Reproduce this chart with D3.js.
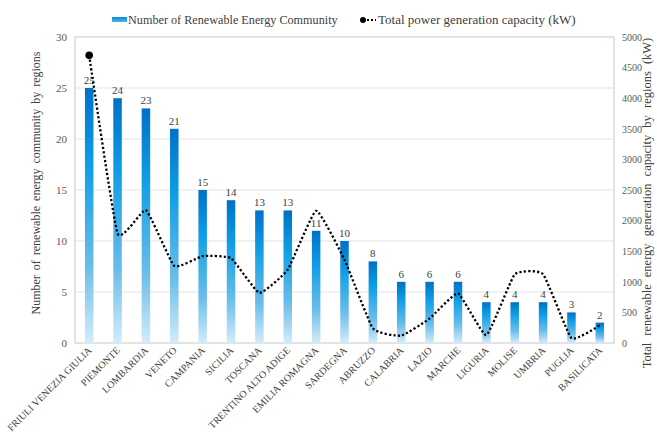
<!DOCTYPE html>
<html>
<head>
<meta charset="utf-8">
<script src="https://cdn.jsdelivr.net/npm/d3@7"></script>
<style>
  html, body { margin: 0; padding: 0; background: #fff; }
  svg { display: block; }
</style>
</head>
<body>
<svg id="chart" width="657" height="433"></svg>
<script>
// Renewable energy communities by Italian region
const regions = ["FRIULI VENEZIA GIULIA", "PIEMONTE", "LOMBARDIA", "VENETO", "CAMPANIA", "SICILIA",
  "TOSCANA", "TRENTINO ALTO ADIGE", "EMILIA ROMAGNA", "SARDEGNA", "ABRUZZO", "CALABRIA",
  "LAZIO", "MARCHE", "LIGURIA", "MOLISE", "UMBRIA", "PUGLIA", "BASILICATA"];
const communities = [25, 24, 23, 21, 15, 14, 13, 13, 11, 10, 8, 6, 6, 6, 4, 4, 4, 3, 2];
const capacityKW = [4700, 1790, 2170, 1260, 1420, 1385, 820, 1200, 2160, 1360, 240, 120, 400, 810, 130, 1120, 1125, 80, 290];
const leftTicks = [0, 5, 10, 15, 20, 25, 30];
const rightTicks = [0, 500, 1000, 1500, 2000, 2500, 3000, 3500, 4000, 4500, 5000];

const FONT = '"Liberation Serif"';
const svg = d3.select("#chart");
const plot = { left: 75, right: 614, top: 37, bottom: 343 };

const x = d3.scaleBand().domain(regions).range([plot.left, plot.right]).paddingInner(0.7).paddingOuter(0.35);
const xc = d3.scalePoint().domain(regions).range([plot.left, plot.right]).padding(0.5);
const yL = d3.scaleLinear().domain([0, 30]).range([plot.bottom, plot.top]);
const yR = d3.scaleLinear().domain([0, 5000]).range([plot.bottom, plot.top]);

// Vertical gradient applied to each bar
const defs = svg.append("defs");
const grad = defs.append("linearGradient").attr("id", "barGrad")
  .attr("x1", 0).attr("y1", 0).attr("x2", 0).attr("y2", 1);
grad.append("stop").attr("offset", "0%").attr("stop-color", "#0070c8");
grad.append("stop").attr("offset", "30%").attr("stop-color", "#0e9ee6");
grad.append("stop").attr("offset", "70%").attr("stop-color", "#6bbde9");
grad.append("stop").attr("offset", "100%").attr("stop-color", "#d4ecfa");
const gradH = defs.append("linearGradient").attr("id", "legGrad")
  .attr("x1", 0).attr("y1", 0).attr("x2", 0).attr("y2", 1);
gradH.append("stop").attr("offset", "0%").attr("stop-color", "#0a86d8");
gradH.append("stop").attr("offset", "100%").attr("stop-color", "#4fb3ea");

// Gridlines
svg.append("g").selectAll("line").data(leftTicks.slice(1, -1)).join("line")
  .attr("x1", plot.left).attr("x2", plot.right)
  .attr("y1", d => yL(d)).attr("y2", d => yL(d))
  .attr("stroke", "#e3e3e3").attr("stroke-width", 1);

// Plot frame
svg.append("rect").attr("x", plot.left).attr("y", plot.top)
  .attr("width", plot.right - plot.left).attr("height", plot.bottom - plot.top)
  .attr("fill", "none").attr("stroke", "#c8c8c8").attr("stroke-width", 1);

// Bars
svg.append("g").selectAll("rect").data(regions).join("rect")
  .attr("x", d => x(d)).attr("width", x.bandwidth())
  .attr("y", (d, i) => yL(communities[i]))
  .attr("height", (d, i) => plot.bottom - yL(communities[i]))
  .attr("fill", "url(#barGrad)");

// Bar value labels
svg.append("g").selectAll("text").data(regions).join("text")
  .attr("x", d => x(d) + x.bandwidth() / 2)
  .attr("y", (d, i) => yL(communities[i]) - 4)
  .attr("text-anchor", "middle").attr("font-size", 11).attr("fill", "#404040")
  .style("font-family", FONT)
  .text((d, i) => communities[i]);

// Capacity line (dotted, lightly smoothed)
const line = d3.line().x(d => xc(d.r)).y(d => yR(d.v)).curve(d3.curveCardinal.tension(0.6));
const lineData = regions.map((r, i) => ({ r, v: capacityKW[i] }));
svg.append("path").datum(lineData).attr("d", line)
  .attr("fill", "none").attr("stroke", "#000").attr("stroke-width", 2.3)
  .attr("stroke-dasharray", "2.2 2.2");
svg.append("circle").attr("cx", xc(regions[0])).attr("cy", yR(capacityKW[0]))
  .attr("r", 3.8).attr("fill", "#000");

// Left axis
const axL = d3.axisLeft(yL).tickValues(leftTicks).tickSize(0).tickPadding(8);
const gL = svg.append("g").attr("transform", `translate(${plot.left},0)`).call(axL);
gL.select(".domain").remove();
gL.selectAll("text").attr("font-size", 11).attr("fill", "#595959").style("font-family", FONT);

// Right axis
const axR = d3.axisRight(yR).tickValues(rightTicks).tickFormat(d3.format("d")).tickSize(0).tickPadding(8);
const gR = svg.append("g").attr("transform", `translate(${plot.right},0)`).call(axR);
gR.select(".domain").remove();
gR.selectAll("text").attr("font-size", 10).attr("fill", "#595959").style("font-family", FONT);

// Category labels, rotated
svg.append("g").selectAll("text").data(regions).join("text")
  .attr("transform", d => `translate(${xc(d) + 3},${plot.bottom + 8}) rotate(-45)`)
  .attr("text-anchor", "end").attr("font-size", 10).attr("fill", "#404040")
  .style("font-family", FONT)
  .text(d => d);

// Axis titles
svg.append("text")
  .attr("transform", `translate(40,183) rotate(-90)`)
  .attr("text-anchor", "middle").attr("font-size", 12).attr("fill", "#404040")
  .attr("word-spacing", 2).style("font-family", FONT)
  .text("Number of renewable energy community by regions");
svg.append("text")
  .attr("transform", `translate(651,203) rotate(-90)`)
  .attr("text-anchor", "middle").attr("font-size", 12.5).attr("fill", "#404040")
  .attr("word-spacing", 4).style("font-family", FONT)
  .text("Total renewable energy generation capacity by regions (kW)");

// Legend
const leg = svg.append("g");
leg.append("rect").attr("x", 112).attr("y", 17).attr("width", 15).attr("height", 5).attr("fill", "url(#legGrad)");
leg.append("text").attr("x", 128).attr("y", 24).attr("font-size", 12.2).attr("fill", "#404040")
  .style("font-family", FONT)
  .text("Number of Renewable Energy Community");
leg.append("line").attr("x1", 363).attr("x2", 376).attr("y1", 20).attr("y2", 20)
  .attr("stroke", "#000").attr("stroke-width", 2).attr("stroke-dasharray", "2 2");
leg.append("circle").attr("cx", 363).attr("cy", 20).attr("r", 3).attr("fill", "#000");
leg.append("text").attr("x", 378).attr("y", 24).attr("font-size", 13).attr("fill", "#404040")
  .style("font-family", FONT)
  .text("Total power generation capacity (kW)");
</script>
</body>
</html>
